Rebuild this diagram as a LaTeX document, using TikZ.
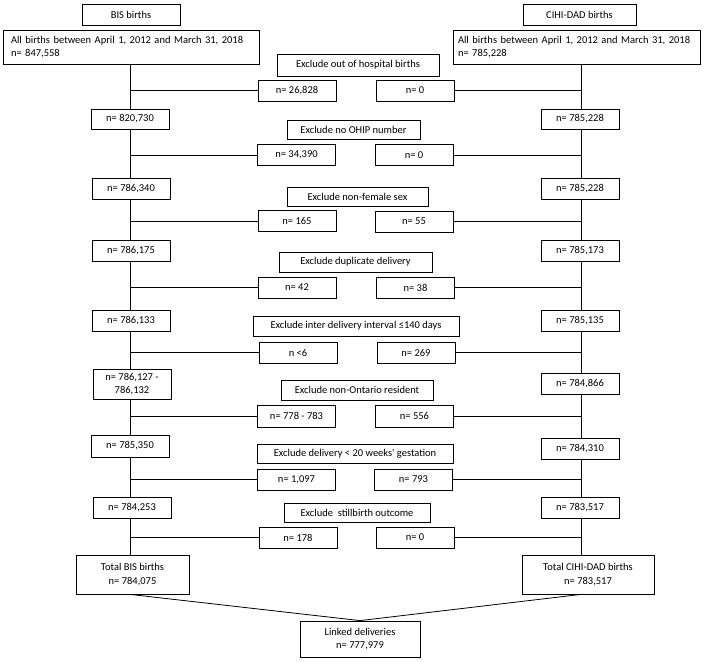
\documentclass[tikz,border=0pt]{standalone}
\usepackage{fontspec}
\setmainfont{Carlito}
\usetikzlibrary{backgrounds}
\begin{document}
\begin{tikzpicture}[x=1pt,y=-1pt,
  box/.style={draw, fill=white, line width=0.8pt, font=\fontsize{10.5}{13.5}\selectfont, align=center, inner sep=0pt},
  nbox/.style={box, minimum width=78pt, minimum height=21pt},
  exbox/.style={box, minimum height=20pt},
  conn/.style={line width=0.8pt}]
\useasboundingbox (0,0) rectangle (713,662);
\coordinate (trunkL) at (130,0);
\coordinate (trunkR) at (581,0);
% headers
\node[box, minimum width=98pt, minimum height=21pt] (bis) at (131,14.5) {BIS births};
\node[box, minimum width=113pt, minimum height=21pt] (cihi) at (579.5,14.5) {CIHI-DAD births};
\node[box, align=left, text width=240pt, inner xsep=8pt, minimum height=34pt] (allL) at (131,47) {All births between April 1, 2012 and March 31, 2018\\n= 847,558};
\node[box, align=left, text width=237pt, inner xsep=5pt, minimum height=34pt] (allR) at (576.5,47) {All births between April 1, 2012 and March 31, 2018\\n= 785,228};
% row 1
\node[exbox, minimum width=162pt, minimum height=22pt] (ex1) at (358,65) {Exclude out of hospital births};
\node[nbox] (a1) at (297,90.5) {n= 26,828};
\node[nbox] (b1) at (415,90.5) {n= 0};
\node[nbox, minimum height=20pt] (l1) at (130,119) {n= 820,730};
\node[nbox, minimum height=20pt] (r1) at (580,119) {n= 785,228};
% row 2
\node[exbox, minimum width=133pt, minimum height=19pt] (ex2) at (353.5,129.5) {Exclude no OHIP number};
\node[nbox] (a2) at (296.5,155) {n= 34,390};
\node[nbox] (b2) at (414,155) {n= 0};
\node[nbox] (l2) at (131,188.5) {n= 786,340};
\node[nbox] (r2) at (580,188.5) {n= 785,228};
% row 3
\node[exbox, minimum width=141pt, minimum height=19pt] (ex3) at (357.5,196.5) {Exclude non-female sex};
\node[nbox] (a3) at (297,221) {n= 165};
\node[nbox] (b3) at (414,221.5) {n= 55};
\node[nbox] (l3) at (131,250.5) {n= 786,175};
\node[nbox] (r3) at (580,250.5) {n= 785,173};
% row 4
\node[exbox, minimum width=153pt] (ex4) at (355.5,262) {Exclude duplicate delivery};
\node[nbox] (a4) at (297,287.5) {n= 42};
\node[nbox] (b4) at (415.5,287.5) {n= 38};
\node[nbox] (l4) at (131,320.5) {n= 786,133};
\node[nbox] (r4) at (580,320.5) {n= 785,135};
% row 5
\node[exbox, minimum width=206pt] (ex5) at (356,326) {Exclude inter delivery interval ≤140 days};
\node[nbox] (a5) at (298,352.5) {n <6};
\node[nbox] (b5) at (416,352.5) {n= 269};
\node[nbox, minimum height=30pt] (l5) at (132,384) {n= 786,127 -\\786,132};
\node[nbox] (r5) at (580,383.5) {n= 784,866};
% row 6
\node[exbox, minimum width=152pt] (ex6) at (357,390) {Exclude non-Ontario resident};
\node[nbox, minimum height=22pt] (a6) at (296.5,416) {n= 778 - 783};
\node[nbox, minimum height=22pt] (b6) at (414.5,416) {n= 556};
\node[nbox, minimum height=22pt] (l6) at (130,446) {n= 785,350};
\node[nbox] (r6) at (580,448.5) {n= 784,310};
% row 7
\node[exbox, minimum width=196pt, minimum height=19pt] (ex7) at (355,453.5) {Exclude delivery < 20 weeks\textquotesingle\ gestation};
\node[nbox] (a7) at (296.5,479.5) {n= 1,097};
\node[nbox] (b7) at (413.5,479.5) {n= 793};
\node[nbox] (l7) at (132,507.5) {n= 784,253};
\node[nbox] (r7) at (580,507.5) {n= 783,517};
% row 8
\node[exbox, minimum width=146pt, minimum height=19pt] (ex8) at (357,512.5) {Exclude\ \ stillbirth outcome};
\node[nbox] (a8) at (298,537.5) {n= 178};
\node[nbox] (b8) at (415,537.5) {n= 0};
% totals
\node[box, minimum width=113pt, minimum height=39pt] (totL) at (132.5,574.5) {Total BIS births\\n= 784,075};
\node[box, minimum width=132pt, minimum height=39pt] (totR) at (588,574.5) {Total CIHI-DAD births\\n= 783,517};
\node[box, minimum width=120pt, minimum height=36pt] (linked) at (360,639) {Linked deliveries\\n= 777,979};
% connectors
\begin{scope}[on background layer]
\draw[conn] (allL.south -| trunkL) -- (totL.north -| trunkL);
\draw[conn] (allR.south -| trunkR) -- (totR.north -| trunkR);
\end{scope}
\foreach \i in {1,...,8}{
  \draw[conn] (a\i.west) -- (a\i.west -| trunkL);
  \draw[conn] (b\i.east) -- (b\i.east -| trunkR);
}
\draw[conn] (totL.south -| trunkL) -- (linked.north);
\draw[conn] (totR.south -| trunkR) -- (linked.north);
\end{tikzpicture}
\end{document}
